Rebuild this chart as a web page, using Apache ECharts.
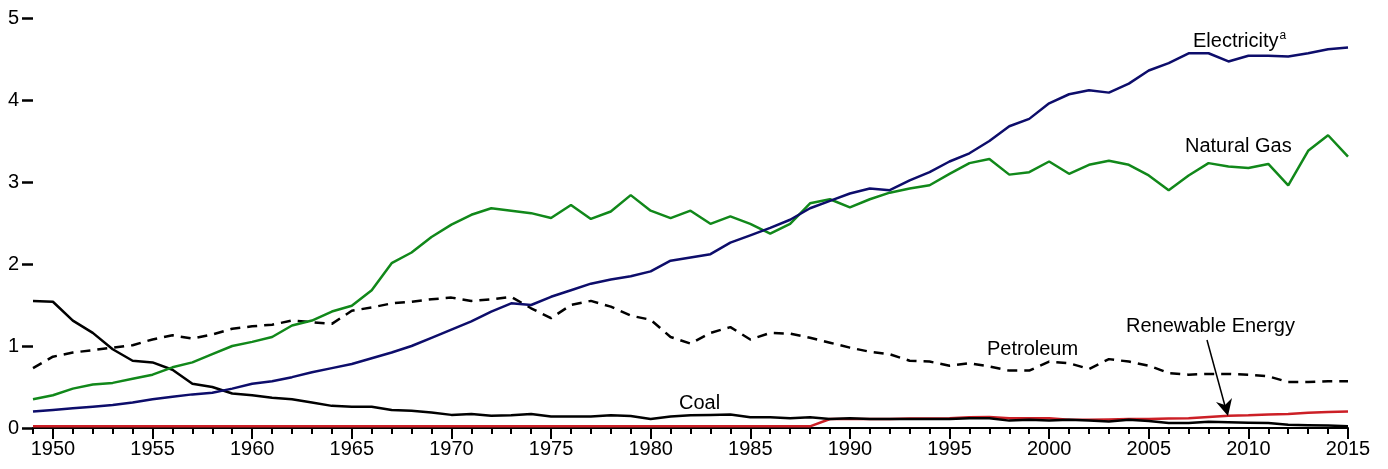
<!DOCTYPE html>
<html>
<head>
<meta charset="utf-8">
<script src="https://cdn.jsdelivr.net/npm/echarts@6/dist/echarts.min.js"></script>
<style>
  html, body { margin: 0; padding: 0; background: #fff; }
  #chart { width: 1388px; height: 469px; }
</style>
</head>
<body>
<div id="chart"></div>
<script>
const years = []
for (let y = 1949; y <= 2015; y++) years.push(String(y))

const electricity = [
  0.20, 0.22, 0.24, 0.26, 0.28, 0.31, 0.35, 0.38, 0.41, 0.43, 0.48,
  0.54, 0.57, 0.62, 0.68, 0.73, 0.78, 0.85, 0.92, 1.00, 1.10,
  1.20, 1.30, 1.42, 1.52, 1.50, 1.60, 1.68, 1.76, 1.81, 1.85,
  1.91, 2.04, 2.08, 2.12, 2.26, 2.35, 2.44, 2.54, 2.68, 2.77,
  2.86, 2.92, 2.90, 3.02, 3.12, 3.25, 3.35, 3.50, 3.68, 3.77,
  3.96, 4.07, 4.12, 4.09, 4.20, 4.36, 4.45, 4.57, 4.57, 4.47,
  4.54, 4.54, 4.53, 4.57, 4.62, 4.64
]
const naturalGas = [
  0.35, 0.40, 0.48, 0.53, 0.55, 0.60, 0.65, 0.74, 0.80, 0.90, 1.00,
  1.05, 1.11, 1.25, 1.31, 1.42, 1.49, 1.68, 2.01, 2.14, 2.33,
  2.48, 2.60, 2.68, 2.65, 2.62, 2.56, 2.72, 2.55, 2.64, 2.84,
  2.65, 2.56, 2.65, 2.49, 2.58, 2.49, 2.37, 2.49, 2.74, 2.79,
  2.69, 2.79, 2.87, 2.92, 2.96, 3.10, 3.23, 3.28, 3.09, 3.12,
  3.25, 3.10, 3.21, 3.26, 3.21, 3.08, 2.90, 3.08, 3.23, 3.19,
  3.17, 3.22, 2.96, 3.38, 3.57, 3.31
]
const petroleum = [
  0.73, 0.87, 0.92, 0.95, 0.98, 1.01, 1.08, 1.13, 1.09, 1.14, 1.21,
  1.24, 1.26, 1.31, 1.29, 1.27, 1.43, 1.47, 1.52, 1.54, 1.57,
  1.59, 1.55, 1.57, 1.60, 1.46, 1.34, 1.50, 1.55, 1.48, 1.37,
  1.32, 1.11, 1.03, 1.16, 1.23, 1.08, 1.16, 1.15, 1.10, 1.04,
  0.98, 0.93, 0.90, 0.82, 0.81, 0.76, 0.79, 0.75, 0.70, 0.70,
  0.81, 0.79, 0.72, 0.84, 0.81, 0.76, 0.67, 0.65, 0.66, 0.66,
  0.65, 0.63, 0.56, 0.56, 0.57, 0.57
]
const coal = [
  1.55, 1.54, 1.31, 1.16, 0.96, 0.82, 0.80, 0.71, 0.54, 0.50, 0.42,
  0.40, 0.37, 0.35, 0.31, 0.27, 0.26, 0.26, 0.22, 0.21, 0.19,
  0.16, 0.17, 0.15, 0.155, 0.17, 0.14, 0.14, 0.14, 0.155, 0.145,
  0.11, 0.14, 0.155, 0.16, 0.165, 0.13, 0.13, 0.12, 0.13, 0.11,
  0.12, 0.11, 0.11, 0.11, 0.11, 0.11, 0.12, 0.12, 0.09, 0.10,
  0.09, 0.10, 0.09, 0.08, 0.10, 0.085, 0.06, 0.06, 0.075, 0.07,
  0.065, 0.06, 0.04, 0.035, 0.03, 0.02
]
const renewable = [
  0.02, 0.02, 0.02, 0.02, 0.02, 0.02, 0.02, 0.02, 0.02, 0.02, 0.02,
  0.02, 0.02, 0.02, 0.02, 0.02, 0.02, 0.02, 0.02, 0.02, 0.02,
  0.02, 0.02, 0.02, 0.02, 0.02, 0.02, 0.02, 0.02, 0.02, 0.02,
  0.02, 0.02, 0.02, 0.02, 0.02, 0.02, 0.02, 0.02, 0.02, 0.11,
  0.11, 0.11, 0.11, 0.115, 0.115, 0.12, 0.13, 0.135, 0.12, 0.12,
  0.12, 0.10, 0.10, 0.105, 0.11, 0.11, 0.115, 0.12, 0.135, 0.15,
  0.155, 0.165, 0.17, 0.185, 0.195, 0.20
]

const font = '"Liberation Sans", Arial, sans-serif'

function isMajor(idx, val) {
  return Number(val) % 5 === 0
}

function lineSeries(name, vals, color, dashed) {
  return {
    name: name,
    type: 'line',
    data: vals,
    symbol: 'none',
    silent: true,
    lineStyle: {
      color: color,
      width: 2.5,
      type: dashed ? [10, 7] : 'solid'
    },
    z: 3
  }
}

const chart = echarts.init(document.getElementById('chart'))

const option = {
  animation: false,
  grid: {
    left: 33,
    right: 40,
    top: 18,
    bottom: 41
  },
  xAxis: [{
    type: 'category',
    data: years,
    boundaryGap: false,
    axisLine: {
      show: true,
      lineStyle: { color: '#000', width: 2 }
    },
    axisTick: {
      show: true,
      interval: 0,
      length: 6,
      lineStyle: { color: '#000', width: 2 }
    },
    axisLabel: {
      interval: isMajor,
      margin: 11,
      fontFamily: font,
      fontSize: 20,
      color: '#000'
    }
  }, {
    type: 'category',
    data: years,
    boundaryGap: false,
    position: 'bottom',
    axisLine: { show: false },
    axisTick: {
      show: true,
      interval: isMajor,
      length: 11,
      lineStyle: { color: '#000', width: 2 }
    },
    axisLabel: { show: false }
  }],
  yAxis: {
    type: 'value',
    min: 0,
    max: 5,
    interval: 1,
    splitLine: { show: false },
    axisLine: { show: false },
    axisTick: {
      show: true,
      length: 11,
      lineStyle: { color: '#000', width: 2.5 }
    },
    axisLabel: {
      margin: 14,
      fontFamily: font,
      fontSize: 20,
      color: '#000'
    }
  },
  series: [
    lineSeries('Renewable Energy', renewable, '#cc1f26', false),
    lineSeries('Coal', coal, '#000000', false),
    lineSeries('Petroleum', petroleum, '#000000', true),
    lineSeries('Natural Gas', naturalGas, '#11881a', false),
    lineSeries('Electricity', electricity, '#0d0d6b', false)
  ],
  graphic: [
    {
      type: 'text',
      left: 1193,
      top: 30,
      style: {
        text: '{m|Electricity}{s|a}',
        rich: {
          m: { fontFamily: font, fontSize: 20, fill: '#000' },
          s: { fontFamily: font, fontSize: 12, fill: '#000', verticalAlign: 'top', padding: [0, 0, 10, 1] }
        }
      }
    },
    {
      type: 'text',
      left: 1185,
      top: 136,
      style: { text: 'Natural Gas', fontFamily: font, fontSize: 20, fill: '#000' }
    },
    {
      type: 'text',
      left: 987,
      top: 339,
      style: { text: 'Petroleum', fontFamily: font, fontSize: 20, fill: '#000' }
    },
    {
      type: 'text',
      left: 1126,
      top: 316,
      style: { text: 'Renewable Energy', fontFamily: font, fontSize: 20, fill: '#000' }
    },
    {
      type: 'text',
      left: 679,
      top: 393,
      style: { text: 'Coal', fontFamily: font, fontSize: 20, fill: '#000' }
    },
    {
      type: 'line',
      shape: { x1: 1207, y1: 340, x2: 1225, y2: 406 },
      style: { stroke: '#000', lineWidth: 1.5 },
      z: 10
    },
    {
      type: 'polygon',
      shape: { points: [[1228, 416], [1216, 402], [1225, 405], [1232, 398]] },
      style: { fill: '#000' },
      z: 10
    }
  ]
}

chart.setOption(option)
</script>
</body>
</html>
